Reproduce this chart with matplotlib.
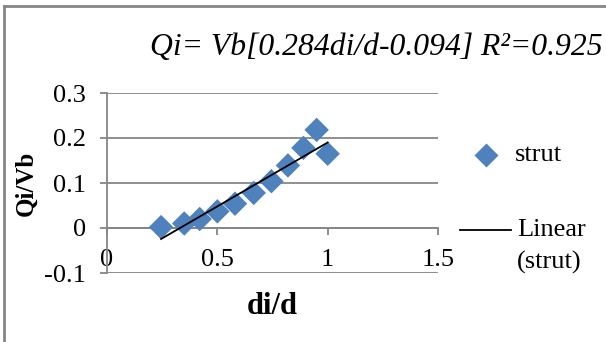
import numpy as np
import matplotlib
matplotlib.use('Agg')
import matplotlib.pyplot as plt
from matplotlib.lines import Line2D

plt.rcParams['font.family'] = 'Liberation Serif'

# strut data: relative depth vs normalised shear
di_d = [0.245, 0.35, 0.42, 0.50, 0.58, 0.665, 0.745, 0.82, 0.89, 0.95, 1.0]
qi_vb = [0.002, 0.010, 0.020, 0.037, 0.054, 0.078, 0.104, 0.139, 0.178, 0.218, 0.165]

# linear fit reported in the title
slope = 0.284
intercept = -0.094
r2 = 0.925

x_ticks = [0, 0.5, 1, 1.5]
y_ticks = [-0.1, 0, 0.1, 0.2, 0.3]

blue = '#4F81BD'
grey = '#868686'

W, H = 606, 342
fig = plt.figure(figsize=(W / 100, H / 100), dpi=100)
ax = fig.add_axes([107 / W, 1 - 273 / H, (438 - 107) / W, (273 - 93) / H])

ax.scatter(di_d, qi_vb, marker='D', s=155, color=blue, edgecolors='none', zorder=3)
fx = np.array([min(di_d), max(di_d)])
ax.plot(fx, slope * fx + intercept, color='black', lw=1.3, zorder=4)

ax.set_xlim(0, 1.5)
ax.set_ylim(-0.1, 0.3)
ax.set_xticks(x_ticks)
ax.set_xticklabels(['0', '0.5', '1', '1.5'])
ax.set_yticks(y_ticks)
ax.set_yticklabels(['-0.1', '0', '0.1', '0.2', '0.3'])

ax.grid(axis='y', color=grey, lw=1.3)
ax.set_axisbelow(True)
for s in ['top', 'right']:
    ax.spines[s].set_visible(False)
ax.spines['bottom'].set_position(('data', 0))
for s in ['bottom', 'left']:
    ax.spines[s].set_color(grey)
    ax.spines[s].set_linewidth(1.3)
ax.tick_params(axis='both', direction='out', length=5, width=1.3, color=grey,
               labelsize=19)
ax.tick_params(axis='x', pad=10)
ax.tick_params(axis='y', pad=10)

ax.set_xlabel('di/d', fontsize=22, fontweight='bold')
ax.xaxis.set_label_coords(0.5, -0.105)
ax.set_ylabel('Qi/Vb', fontsize=18, fontweight='bold')
ax.yaxis.set_label_coords(-0.21, 0.5)

fig.text(603 / W, 1 - 48 / H, f'Qi= Vb[{slope}di/d{intercept}] R\u00b2={r2}',
         fontsize=22.8, style='italic', ha='right', va='center')

# legend: marker entry and trend line entry
fig.add_artist(Line2D([486 / W], [1 - 155 / H], marker='D', ls='none',
                      color=blue, ms=12.5, mec='none'))
fig.text(515 / W, 1 - 155 / H, 'strut', fontsize=19, va='center')
fig.add_artist(Line2D([460 / W, 511 / W], [1 - 230 / H] * 2, color='black', lw=1.3))
fig.text(517 / W, 1 - 230 / H, 'Linear', fontsize=19, va='center')
fig.text(517 / W, 1 - 262 / H, '(strut)', fontsize=19, va='center')

# chart area border
fig.add_artist(Line2D([4 / W, 4 / W], [0, 1 - 6 / H], color=grey, lw=2))
fig.add_artist(Line2D([4 / W, 1], [1 - 6 / H] * 2, color=grey, lw=2))

fig.savefig('out.png', dpi=100)
